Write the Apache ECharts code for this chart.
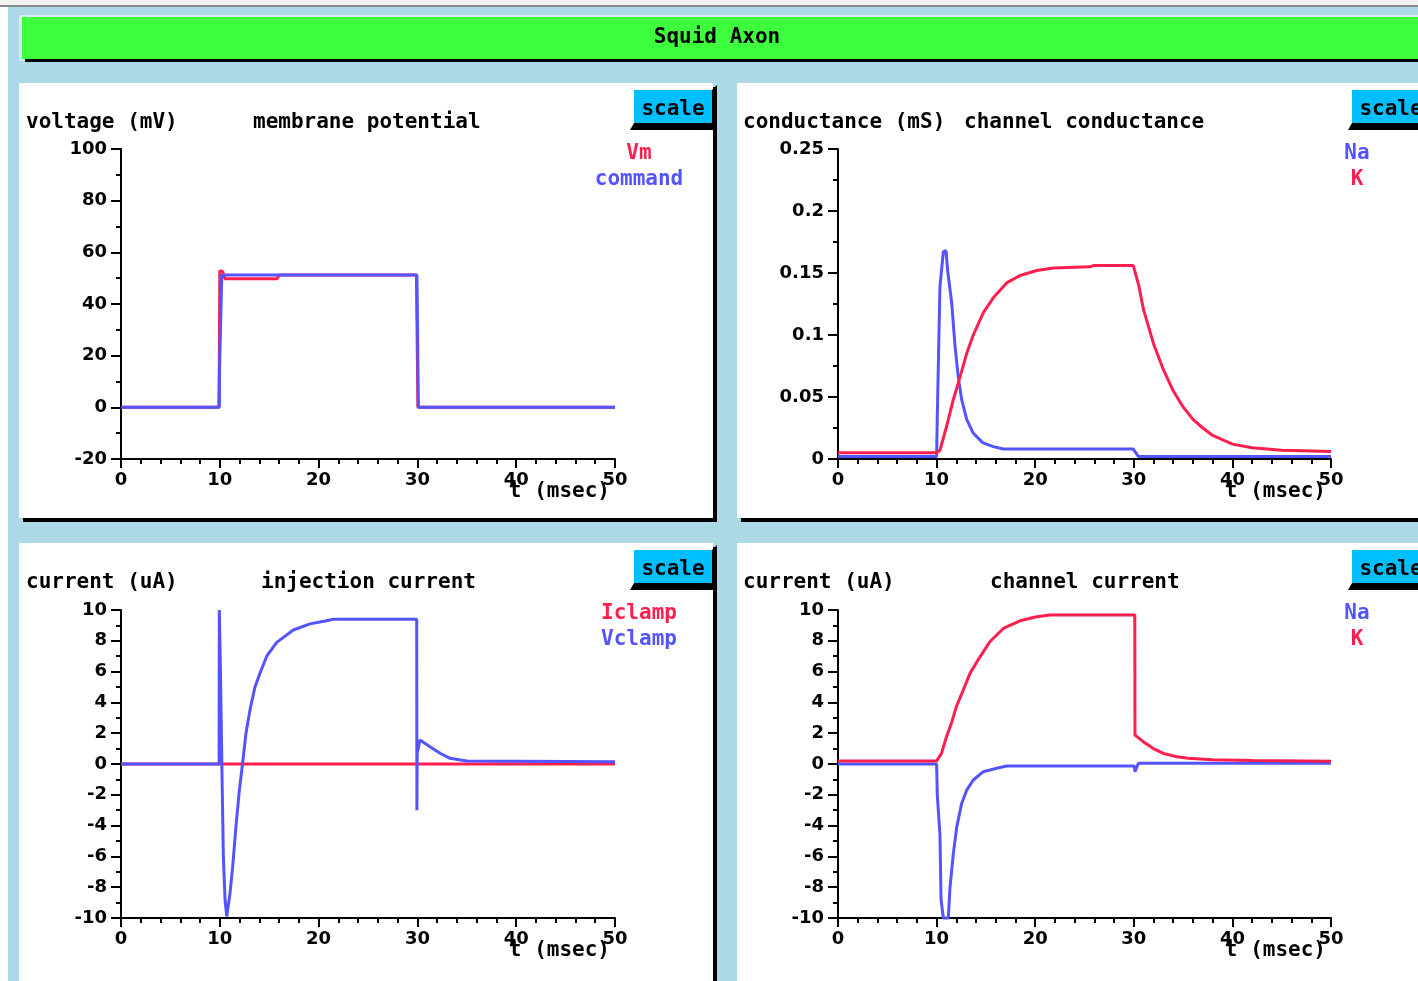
<!DOCTYPE html>
<html>
<head>
<meta charset="utf-8">
<title>Squid Axon</title>
<script src="https://cdn.jsdelivr.net/npm/echarts@6/dist/echarts.min.js"></script>
<style>
html, body { margin: 0; padding: 0; background: #add8e6; overflow: hidden; }
#main { width: 1418px; height: 981px; }
</style>
</head>
<body>
<div id="main"></div>
<script>
// ---- data (time in msec) ----
// membrane potential (mV)
const vmT = [0, 9.9, 9.95, 10.0, 10.3, 10.5, 15.8, 16.0, 29.9, 29.95, 30.05, 50];
const vmV = [0, 0, 16.4, 52.9, 52.5, 49.8, 49.8, 51.2, 51.2, 35, 0, 0];
const cmdT = [0, 9.95, 9.97, 10.15, 10.2, 29.95, 30.0, 30.1, 50];
const cmdV = [0, 0, 14, 14, 51.2, 51.2, 35, 0, 0];

// channel conductance (mS)
const naCondT = [0, 10.0, 10.07, 10.34, 10.68, 10.95, 11.12, 11.53, 11.87, 12.2, 12.54, 13.05, 13.7, 14.7, 15.75, 16.77, 29.95, 30.46, 50];
const naCondV = [0.002, 0.002, 0.034, 0.139, 0.167, 0.168, 0.152, 0.126, 0.091, 0.066, 0.048, 0.032, 0.021, 0.013, 0.010, 0.008, 0.008, 0.002, 0.002];
const kCondT = [0, 10.0, 10.34, 11.0, 11.7, 12.37, 13.05, 13.72, 14.74, 15.75, 17.1, 18.46, 20.15, 21.84, 25.56, 25.9, 29.95, 30.5, 31, 32, 33, 34, 35, 36, 37, 38, 40, 42, 45, 50];
const kCondV = [0.005, 0.005, 0.007, 0.026, 0.048, 0.066, 0.085, 0.1, 0.118, 0.13, 0.142, 0.148, 0.152, 0.154, 0.155, 0.156, 0.156, 0.14, 0.12, 0.093, 0.072, 0.055, 0.042, 0.032, 0.025, 0.019, 0.012, 0.009, 0.007, 0.006];

// injection current (uA)
const iclT = [0, 50];
const iclV = [0, 0];
const vclT = [0, 9.93, 9.95, 10.05, 10.25, 10.36, 10.53, 10.7, 11.03, 11.3, 11.63, 11.98, 12.3, 12.65, 13.05, 13.56, 14.07, 14.75, 15.76, 17.44, 19.13, 20.8, 21.46, 29.93, 29.95, 29.98, 30.26, 31.27, 32.3, 33.3, 35, 50];
const vclV = [0, 0, 10, 6.6, -1.7, -6.0, -8.8, -9.9, -8.4, -6.7, -4.1, -1.7, 0, 2.0, 3.5, 5.0, 5.9, 7.0, 7.9, 8.7, 9.1, 9.3, 9.4, 9.4, -3.0, 0.7, 1.56, 1.12, 0.7, 0.37, 0.2, 0.15];

// channel current (uA)
const naCurT = [0, 10.0, 10.07, 10.34, 10.45, 10.68, 11.19, 11.36, 11.7, 12.04, 12.54, 13.05, 13.72, 14.74, 16.1, 17.1, 30.05, 30.12, 30.46, 50];
const naCurV = [0, 0, -2.0, -4.6, -8.8, -10, -10, -8, -5.8, -4.1, -2.56, -1.7, -1.04, -0.5, -0.28, -0.13, -0.13, -0.5, 0.05, 0.05];
const kCurT = [0, 10.0, 10.5, 11.0, 11.5, 12.0, 12.7, 13.4, 14.4, 15.4, 16.77, 18.46, 20.15, 21.5, 30.1, 30.12, 30.96, 31.98, 33.0, 34.35, 35.5, 38, 42, 50];
const kCurV = [0.2, 0.2, 0.69, 1.77, 2.64, 3.72, 4.8, 5.9, 6.96, 7.94, 8.8, 9.3, 9.56, 9.68, 9.68, 1.88, 1.45, 1.0, 0.69, 0.47, 0.37, 0.28, 0.22, 0.18];

// axis ranges: [min, max, interval, minor splits]
const xRange = [0, 50, 10, 5];
const yRanges = [[-20, 100, 20, 2], [0, 0.25, 0.05, 2], [-10, 10, 2, 2], [-10, 10, 2, 2]];

const yNames = ['voltage (mV)', 'conductance (mS)', 'current (uA)', 'current (uA)'];
const plotTitles = ['membrane potential', 'channel conductance', 'injection current', 'channel current'];
const legends = [['Vm', 'command'], ['Na', 'K'], ['Iclamp', 'Vclamp'], ['Na', 'K']];

const RED = '#ff1f4f', BLUE = '#5454ff';
const MONO = 'bold 21px "DejaVu Sans Mono", "Liberation Mono", monospace';
const SANS = '"DejaVu Sans", sans-serif';

// panel layout
const panels = [[19, 83, 694, 435], [737, 83, 700, 435], [19, 543, 694, 450], [737, 543, 700, 450]];
const grids = [
	{left: 121, top: 149, width: 494, height: 310, outerBoundsMode: 'none'},
	{left: 838, top: 149, width: 493, height: 310, outerBoundsMode: 'none'},
	{left: 121, top: 610, width: 494, height: 308, outerBoundsMode: 'none'},
	{left: 838, top: 610, width: 493, height: 308, outerBoundsMode: 'none'}
];
const titleX = [[26, 253], [743, 964], [26, 261], [743, 990]];

function pairs(t, v) {
	return t.map((x, i) => [x, v[i]]);
}

function txt(s, x, y, color, align) {
	return {
		type: 'text', z: 5,
		style: {text: s, x: x, y: y + 2.5, fill: color, font: MONO,
			textAlign: align, align: align, textVerticalAlign: 'middle', verticalAlign: 'middle'}
	};
}

const graphic = [];
// window edges
graphic.push({type: 'rect', z: -10, shape: {x: 0, y: 0, width: 8, height: 981}, style: {fill: '#ffffff'}});
graphic.push({type: 'rect', z: -10, shape: {x: 0, y: 0, width: 1418, height: 5}, style: {fill: '#f2f2f2'}});
graphic.push({type: 'rect', z: -10, shape: {x: 0, y: 5, width: 1418, height: 2}, style: {fill: '#8a8a8a'}});
// title bar
graphic.push({type: 'rect', z: -10, shape: {x: 19, y: 15, width: 1410, height: 46}, style: {fill: '#d4ecf3'}});
graphic.push({type: 'rect', z: -9, shape: {x: 25, y: 21, width: 1410, height: 41}, style: {fill: '#000'}});
graphic.push({type: 'rect', z: -8, shape: {x: 22, y: 17, width: 1410, height: 42}, style: {fill: '#3dff3d'}});
graphic.push(txt('Squid Axon', 717, 35, '#000', 'center'));

panels.forEach((p, i) => {
	const [x, y, w, h] = p;
	graphic.push({type: 'rect', z: -9, shape: {x: x + 4, y: y + 4, width: w, height: h}, style: {fill: '#000'}});
	graphic.push({type: 'rect', z: -8, shape: {x: x, y: y, width: w, height: h}, style: {fill: '#ffffff'}});
	// scale button
	const bx = x + 615, by = y + 7;
	graphic.push({type: 'polygon', z: 3, shape: {points: [[bx - 4, by + 40], [bx, by + 33], [bx + 78, by + 33], [bx + 78, by], [bx + 83, by - 5], [bx + 83, by + 40]]}, style: {fill: '#000'}});
	graphic.push({type: 'rect', z: 4, shape: {x: bx, y: by, width: 78, height: 33}, style: {fill: '#00bfff'}});
	graphic.push(txt('scale', bx + 39, by + 17, '#000', 'center'));
	// titles
	const ty = y + 37;
	graphic.push(txt(yNames[i], titleX[i][0], ty, '#000', 'left'));
	graphic.push(txt(plotTitles[i], titleX[i][1], ty, '#000', 'left'));
	// legend
	const lx = x + 620;
	const cols = (i % 2 === 0) ? [RED, BLUE] : [BLUE, RED];
	graphic.push(txt(legends[i][0], lx, y + 68, cols[0], 'center'));
	graphic.push(txt(legends[i][1], lx, y + 94, cols[1], 'center'));
});

const axisLine = {onZero: false, lineStyle: {color: '#000', width: 2}};
const labelStyle = {color: '#000', fontFamily: SANS, fontWeight: 'bold', fontSize: 18};

const xAxis = grids.map((g, i) => ({
	gridIndex: i, type: 'value',
	min: xRange[0], max: xRange[1], interval: xRange[2],
	axisLine: axisLine,
	axisTick: {length: 9, lineStyle: {color: '#000', width: 2}},
	minorTick: {show: true, splitNumber: xRange[3], length: 5, lineStyle: {color: '#000', width: 2}},
	splitLine: {show: false},
	axisLabel: Object.assign({margin: 12, hideOverlap: false}, labelStyle),
	name: 't (msec)', nameLocation: 'end', nameGap: -5, nameMoveOverlap: false,
	nameTextStyle: {color: '#000', fontFamily: '"DejaVu Sans Mono", monospace', fontWeight: 'bold', fontSize: 21,
		align: 'right', verticalAlign: 'top', padding: [22, 0, 0, 0]}
}));

const yAxis = yRanges.map((r, i) => ({
	gridIndex: i, type: 'value',
	min: r[0], max: r[1], interval: r[2],
	axisLine: axisLine,
	axisTick: {length: 10, lineStyle: {color: '#000', width: 2}},
	minorTick: {show: true, splitNumber: r[3], length: 5, lineStyle: {color: '#000', width: 2}},
	splitLine: {show: false},
	axisLabel: Object.assign({margin: 14, hideOverlap: false}, labelStyle)
}));

function line(name, i, t, v, color) {
	return {
		name: name, type: 'line', xAxisIndex: i, yAxisIndex: i,
		data: pairs(t, v), showSymbol: false, clip: false,
		lineStyle: {color: color, width: 3}, itemStyle: {color: color}
	};
}

const series = [
	line('Vm', 0, vmT, vmV, RED),
	line('command', 0, cmdT, cmdV, BLUE),
	line('Na', 1, naCondT, naCondV, BLUE),
	line('K', 1, kCondT, kCondV, RED),
	line('Iclamp', 2, iclT, iclV, RED),
	line('Vclamp', 2, vclT, vclV, BLUE),
	line('Na', 3, naCurT, naCurV, BLUE),
	line('K', 3, kCurT, kCurV, RED)
];

const chart = echarts.init(document.getElementById('main'));
chart.setOption({
	backgroundColor: '#add8e6',
	animation: false,
	grid: grids,
	xAxis: xAxis,
	yAxis: yAxis,
	graphic: graphic,
	series: series
});
</script>
</body>
</html>
